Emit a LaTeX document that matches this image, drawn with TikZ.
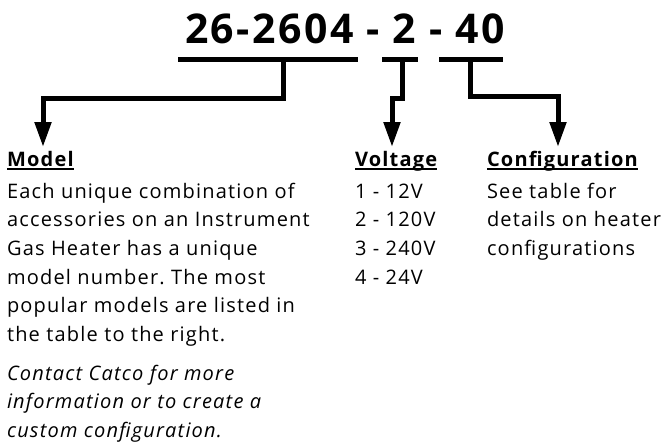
\documentclass[tikz,border=0pt]{standalone}
\usepackage{fontspec}
\setmainfont[LetterSpace=6]{Open Sans}
\usetikzlibrary{arrows.meta}
\frenchspacing
\newcommand\textlines[1]{\begin{tabular}[t]{@{}l@{}}#1\end{tabular}}
\begin{document}
\frenchspacing
\begin{tikzpicture}[x=1pt,y=-1pt,
  bar/.style={line width=5pt},
  conn/.style={line width=5pt,-{Triangle[length=25pt,width=16pt]}},
  head/.style={anchor=base west,inner sep=0pt,outer sep=0pt,font=\fontsize{20}{24}\selectfont\bfseries},
  txt/.style={anchor=base west,inner sep=0pt,outer sep=0pt,font=\fontsize{20}{28.7}\selectfont},
  uline/.style={line width=2pt}]
\useasboundingbox (0,0) rectangle (666,442);
\node[anchor=base,inner sep=0pt] (title) at (345,43) {\fontsize{41}{41}\selectfont\bfseries 26-2604 - 2 - 40};
% bars
\coordinate (b1l) at (178,59); \coordinate (b1r) at (358,59);
\coordinate (b2l) at (382,59); \coordinate (b2r) at (418,59);
\coordinate (b3l) at (439,59); \coordinate (b3r) at (503,59);
\draw[bar] (b1l) -- (b1r);
\draw[bar] (b2l) -- (b2r);
\draw[bar] (b3l) -- (b3r);
% headings
\node[head] (model) at (7,166) {Model};
\node[head] (volt) at (355,166) {Voltage};
\node[head] (conf) at (487,166) {Configuration};
\foreach \n in {model,volt,conf}
  \draw[uline] ([yshift=-3pt]\n.base west) -- ([yshift=-3pt]\n.base east);
% arrow targets
\coordinate (t1) at (43,147);
\coordinate (t2) at (392,147);
\coordinate (t3) at (558,147);
\draw[conn] (283,59) -- (283,98) -- (43,98) -- (t1);
\draw[conn] (402,59) -- (402,98) -- (392,98) -- (t2);
\draw[conn] (470,59) -- (470,96) -- (558,96) -- (t3);
% body texts
\node[txt] (mtext) at (7,198) {\textlines{Each unique combination of\\accessories on an Instrument\\Gas Heater has a unique\\model number. The most\\popular models are listed in\\the table to the right.}};
\node[txt] (mnote) at (7,380) {\itshape\textlines{Contact Catco for more\\information or to create a\\custom configuration.}};
\node[txt] (vtext) at (355,198) {\textlines{1 - 12V\\2 - 120V\\3 - 240V\\4 - 24V}};
\node[txt] (ctext) at (487,198) {\textlines{See table for\\details on heater\\configurations}};
\end{tikzpicture}
\end{document}
